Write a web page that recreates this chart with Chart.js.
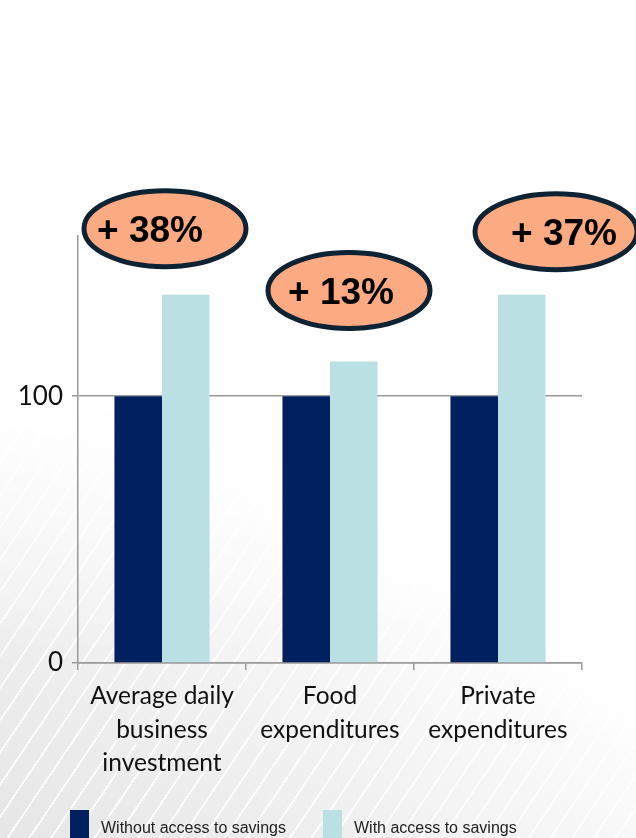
<!DOCTYPE html>
<html>
<head>
<meta charset="utf-8">
<script src="https://cdn.jsdelivr.net/npm/chart.js@4"></script>
<style>
  html, body { margin: 0; padding: 0; background: #fff; }
  #wrap { position: relative; width: 636px; height: 838px; overflow: hidden; }
  #bg {
    position: absolute; left: 0; right: 0; bottom: 0; height: 460px;
    background:
      repeating-linear-gradient(-56deg, rgba(255,255,255,0) 0 16px, rgba(255,255,255,0.8) 16px 18px),
      linear-gradient(35deg, #e6e6e6 0%, #f2f2f2 35%, #ffffff 65%);
    -webkit-mask-image: linear-gradient(to top, #000 40%, transparent 100%);
    mask-image: linear-gradient(to top, #000 40%, transparent 100%);
  }
  canvas { position: relative; }
</style>
</head>
<body>
<div id="wrap"><div id="bg"></div><canvas id="savingsChart" width="636" height="838"></canvas></div>
<script>
const categories = [['Average daily', 'business', 'investment'], ['Food', 'expenditures'], ['Private', 'expenditures']];
const withoutSavings = [100, 100, 100];
const withSavings = [138, 113, 138];
const increaseLabels = ['+ 38%', '+ 13%', '+ 37%'];
const yTicks = [0, 100];

const axisGrey = '#9a9a9a';

// orange ellipses with the increase above each group
const bubblePlugin = {
    id: 'bubbles',
    afterDatasetsDraw(chart, args, opts) {
        const { ctx, scales } = chart;
        ctx.save();
        opts.labels.forEach((txt, i) => {
            const top = scales.y.getPixelForValue(Math.max(withoutSavings[i], withSavings[i]));
            const cx = scales.x.getPixelForValue(i) + opts.dx[i];
            const cy = top + opts.dy[i];
            ctx.beginPath();
            ctx.ellipse(cx, cy, 81, 38, 0, 0, Math.PI * 2);
            ctx.fillStyle = '#fbaa82';
            ctx.fill();
            ctx.lineWidth = 5;
            ctx.strokeStyle = '#0d2233';
            ctx.stroke();
            ctx.fillStyle = '#000';
            ctx.font = 'bold 37px "Liberation Sans", Arial, sans-serif';
            ctx.textAlign = 'center';
            ctx.textBaseline = 'middle';
            ctx.fillText(txt, cx + opts.tx[i], cy + 3);
        });
        ctx.restore();
    }
};

// legend row along the bottom edge
const bottomLegend = {
    id: 'bottomLegend',
    afterDraw(chart) {
        const { ctx } = chart;
        ctx.save();
        ctx.font = '16px "Liberation Sans", Arial, sans-serif';
        ctx.textBaseline = 'middle';
        let x = 70;
        chart.data.datasets.forEach(ds => {
            ctx.fillStyle = ds.backgroundColor;
            ctx.fillRect(x, 810, 19, 30);
            x += 31;
            ctx.fillStyle = '#222';
            ctx.fillText(ds.label, x, 829);
            x += ctx.measureText(ds.label).width + 37;
        });
        ctx.restore();
    }
};

new Chart(document.getElementById('savingsChart'), {
    type: 'bar',
    data: {
        labels: categories,
        datasets: [
            {
                label: 'Without access to savings',
                data: withoutSavings,
                backgroundColor: '#002060',
                categoryPercentage: 0.566,
                barPercentage: 1.0
            },
            {
                label: 'With access to savings',
                data: withSavings,
                backgroundColor: '#bae0e3',
                categoryPercentage: 0.566,
                barPercentage: 1.0
            }
        ]
    },
    options: {
        responsive: false,
        animation: false,
        layout: { padding: { top: 236, right: 54, left: 0, bottom: 0 } },
        plugins: {
            legend: { display: false },
            tooltip: { enabled: false },
            bubbles: {
                labels: increaseLabels,
                dx: [3, 19, 58],
                dy: [-66, -71, -63],
                tx: [-15, -8, 8]
            }
        },
        scales: {
            y: {
                min: 0,
                max: 160,
                afterBuildTicks: s => { s.ticks = yTicks.map(v => ({ value: v })); },
                afterFit: s => { s.width = 78; },
                border: { color: axisGrey, width: 1.5 },
                grid: { color: axisGrey, lineWidth: 1.5, tickLength: 6 },
                ticks: {
                    color: '#111',
                    padding: 9,
                    font: { family: 'Lato', size: 26 }
                }
            },
            x: {
                afterFit: s => { s.height = 175; },
                border: { color: axisGrey, width: 1.5 },
                grid: { drawOnChartArea: false, color: axisGrey, lineWidth: 1.5, tickLength: 7 },
                ticks: {
                    color: '#111',
                    padding: 10,
                    font: { family: 'Lato', size: 24.5, lineHeight: 1.35 }
                }
            }
        }
    },
    plugins: [bubblePlugin, bottomLegend]
});
</script>
</body>
</html>
